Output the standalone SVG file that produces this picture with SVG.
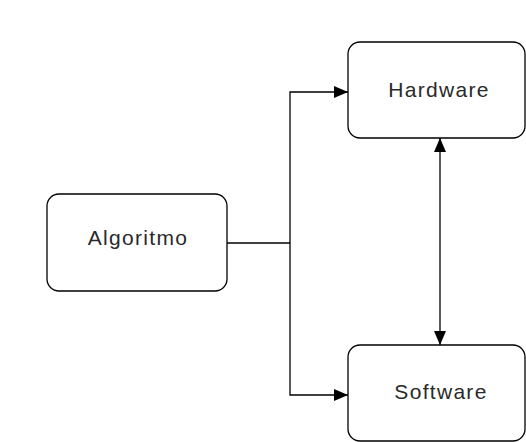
<svg xmlns="http://www.w3.org/2000/svg" width="526" height="442" viewBox="0 0 526 442">
  <style>
    .box { fill: #ffffff; stroke: #000000; stroke-width: 1.3; }
    .lbl { font-family: "Liberation Sans", Arial, sans-serif; font-size: 21px; letter-spacing: 1.3px; fill: #2a2a2a; text-anchor: middle; }
    .wire { fill: none; stroke: #000000; stroke-width: 1.3; }
  </style>
  <defs>
    <marker id="arrow" viewBox="0 0 14 12" refX="14" refY="6" markerWidth="14" markerHeight="12" markerUnits="userSpaceOnUse" orient="auto-start-reverse">
      <path d="M0,0 L14,6 L0,12 Z" fill="#000000"/>
    </marker>
  </defs>
  <rect width="526" height="442" fill="#ffffff"/>

  <g id="connectors">
    <path class="wire" d="M227,243 H290"/>
    <path class="wire" d="M290,243 V92 H348" marker-end="url(#arrow)"/>
    <path class="wire" d="M290,243 V395 H348" marker-end="url(#arrow)"/>
    <path class="wire" d="M440,138 V345" marker-start="url(#arrow)" marker-end="url(#arrow)"/>
  </g>

  <g id="algoritmo">
    <rect class="box" x="47" y="194" width="180" height="97" rx="12"/>
    <text class="lbl" x="138" y="245">Algoritmo</text>
  </g>

  <g id="hardware">
    <rect class="box" x="348" y="42" width="177" height="96" rx="12"/>
    <text class="lbl" x="439" y="97">Hardware</text>
  </g>

  <g id="software">
    <rect class="box" x="348" y="345" width="177" height="96" rx="12"/>
    <text class="lbl" x="441" y="399">Software</text>
  </g>
</svg>
